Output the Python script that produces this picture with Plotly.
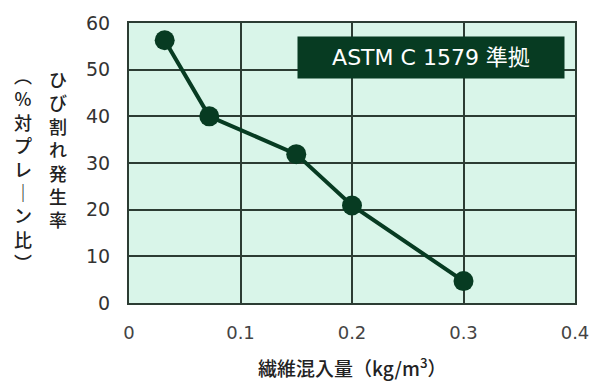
import plotly.graph_objects as go

fiber = [0.032, 0.072, 0.15, 0.2, 0.3]
crack_rate = [56.3, 40.0, 31.9, 20.9, 4.7]
x_ticks = [0, 0.1, 0.2, 0.3, 0.4]
x_tick_labels = ["0", "0.1", "0.2", "0.3", "0.4"]
y_ticks = [0, 10, 20, 30, 40, 50, 60]

green = "#073b22"
grid = "#2c3c33"
font_jp = "Noto Sans CJK JP"
font_num = "DejaVu Sans, Noto Sans CJK JP"

fig = go.Figure()
fig.add_trace(go.Scatter(
    x=fiber, y=crack_rate, mode="lines+markers",
    line=dict(color=green, width=4),
    marker=dict(color=green, size=20),
    showlegend=False, cliponaxis=False,
))

fig.update_layout(
    width=601, height=382,
    margin=dict(l=129, r=23, t=21, b=79),
    paper_bgcolor="white",
    plot_bgcolor="#d9f5e9",
    font=dict(family=font_jp, color="#333333"),
    xaxis=dict(
        range=[0, 0.4], tickvals=x_ticks, ticktext=x_tick_labels,
        showgrid=True, gridcolor=grid, gridwidth=1.5,
        showline=True, linecolor=grid, linewidth=2, mirror=True,
        zeroline=False, ticks="", tickfont=dict(size=18, color="#444444", family=font_num),
        ticklabelstandoff=12,
    ),
    yaxis=dict(
        range=[0, 60], tickvals=y_ticks,
        showgrid=True, gridcolor=grid, gridwidth=1.5,
        showline=True, linecolor=grid, linewidth=2, mirror=True,
        zeroline=False, ticks="", tickfont=dict(size=19, color="#333333", family=font_num),
        ticklabelstandoff=13,
    ),
)

# x-axis title
fig.add_annotation(
    text="繊維混入量（kg/m<sup>3</sup>）", xref="paper", yref="paper",
    x=0.5, y=-0.228, xanchor="center", yanchor="middle", showarrow=False,
    font=dict(size=19, color="#222222", family=font_jp, weight=500),
)

# vertical y-axis titles
col2 = "ひ<br>び<br>割<br>れ<br>発<br>生<br>率"
col1 = "︵<br>%<br>対<br>プ<br>レ<br>｜<br>ン<br>比<br>︶"
fig.add_annotation(
    text=col2, xref="paper", yref="paper",
    x=(58 - 129) / 449, y=(303.3 - 62) / 282.6, xanchor="center", yanchor="top",
    showarrow=False, font=dict(size=18, color="#222222", family=font_jp, weight=500),
)
fig.add_annotation(
    text=col1, xref="paper", yref="paper",
    x=(22 - 129) / 449, y=(303.3 - 58) / 282.6, xanchor="center", yanchor="top",
    showarrow=False, font=dict(size=18, color="#222222", family=font_jp, weight=500),
)

# label box
fig.add_annotation(
    text="ASTM C 1579 準拠", xref="x", yref="y",
    x=0.391, y=57.2, xanchor="right", yanchor="top", showarrow=False,
    width=266, height=41, bgcolor=green, borderpad=0,
    font=dict(size=22, color="white", family=font_num),
)

fig.write_html("out.html", config={"displayModeBar": False},
               post_script="document.body.style.margin='0';")
